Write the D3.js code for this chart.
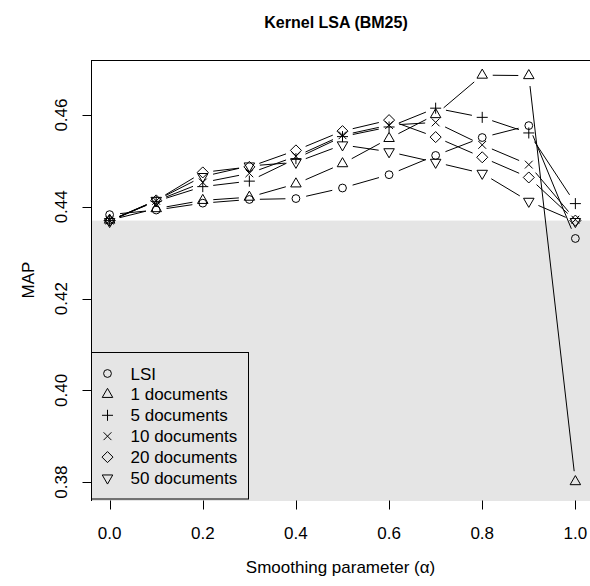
<!DOCTYPE html>
<html>
<head>
<meta charset="utf-8">
<script src="https://cdn.jsdelivr.net/npm/d3@7"></script>
<style>
  body { margin: 0; background: #fff; }
  text { font-family: "Liberation Sans", Arial, Helvetica, sans-serif; fill: #000; }
</style>
</head>
<body>
<script>
//chart data
var alphaValues = [0.0, 0.1, 0.2, 0.3, 0.4, 0.5, 0.6, 0.7, 0.8, 0.9, 1.0];
var seriesNames = ["LSI", "1 documents", "5 documents", "10 documents", "20 documents", "50 documents"];
var seriesShapes = ["circle", "triUp", "plus", "cross", "diamond", "triDown"];
var lsiMap   = [0.4383, 0.4393, 0.4408, 0.4416, 0.4418, 0.4441, 0.4470, 0.4512, 0.4551, 0.4577, 0.4331];
var doc1Map  = [0.4371, 0.4396, 0.4414, 0.4421, 0.4450, 0.4494, 0.4549, 0.4601, 0.4687, 0.4686, 0.3801];
var doc5Map  = [0.4370, 0.4412, 0.4444, 0.4456, 0.4505, 0.4553, 0.4574, 0.4615, 0.4595, 0.4561, 0.4407];
var doc10Map = [0.4370, 0.4413, 0.4453, 0.4473, 0.4510, 0.4556, 0.4578, 0.4584, 0.4535, 0.4492, 0.4372];
var doc20Map = [0.4370, 0.4414, 0.4475, 0.4487, 0.4523, 0.4565, 0.4589, 0.4552, 0.4508, 0.4464, 0.4370];
var doc50Map = [0.4368, 0.4414, 0.4466, 0.4489, 0.4497, 0.4535, 0.4520, 0.4497, 0.4473, 0.4412, 0.4368];
var baselineMap = 0.4370; //shaded area below this level
var xTicks = [0.0, 0.2, 0.4, 0.6, 0.8, 1.0];
var yTicks = [0.38, 0.40, 0.42, 0.44, 0.46];

var allSeries = [lsiMap, doc1Map, doc5Map, doc10Map, doc20Map, doc50Map];

//frame
var width = 590, height = 586;
var plotLeft = 91, plotRight = 594, plotTop = 60, plotBottom = 500;
var radius = 3.9;   //R symbol radius
var gap = 10.5;     //type="b" gap around points
var fontSize = "17px";

var svg = d3.select("body")
    .append("svg")
    .attr("width", width)
    .attr("height", height);

var x = d3.scaleLinear().domain([-0.04, 1.04]).range([plotLeft, plotRight]);
var y = d3.scaleLinear().domain([0.3761, 0.4720]).range([plotBottom, plotTop]);

//R style point symbols
function symbolPath(shape, cx, cy){
    var r, xc, yc, p = d3.path();
    if (shape == "circle"){
        p.arc(cx, cy, radius, 0, 2 * Math.PI);
    } else if (shape == "triUp" || shape == "triDown"){
        var s = shape == "triUp" ? 1 : -1;
        r = 1.5551 * radius;
        xc = 1.3468 * radius;
        yc = 0.7776 * radius;
        p.moveTo(cx, cy - s * r);
        p.lineTo(cx + xc, cy + s * yc);
        p.lineTo(cx - xc, cy + s * yc);
        p.closePath();
    } else if (shape == "plus"){
        xc = Math.SQRT2 * radius;
        p.moveTo(cx - xc, cy); p.lineTo(cx + xc, cy);
        p.moveTo(cx, cy - xc); p.lineTo(cx, cy + xc);
    } else if (shape == "cross"){
        xc = radius;
        p.moveTo(cx - xc, cy - xc); p.lineTo(cx + xc, cy + xc);
        p.moveTo(cx - xc, cy + xc); p.lineTo(cx + xc, cy - xc);
    } else if (shape == "diamond"){
        xc = Math.SQRT2 * radius;
        p.moveTo(cx, cy - xc);
        p.lineTo(cx + xc, cy);
        p.lineTo(cx, cy + xc);
        p.lineTo(cx - xc, cy);
        p.closePath();
    }
    return p.toString();
}

//plot box
svg.append("rect")
    .attr("x", plotLeft + 0.5)
    .attr("y", plotTop + 0.5)
    .attr("width", plotRight - plotLeft)
    .attr("height", plotBottom - plotTop)
    .attr("fill", "none")
    .attr("stroke", "#000");

//shaded region below the baseline
svg.append("rect")
    .attr("x", plotLeft + 1)
    .attr("y", y(baselineMap))
    .attr("width", plotRight - plotLeft)
    .attr("height", plotBottom + 1 - y(baselineMap))
    .attr("fill", "#e5e5e5");

var plotArea = svg.append("g");

//lines with gaps around points (type "b")
allSeries.forEach(function(vals){
    for (var i = 1; i < vals.length; i++){
        var x0 = x(alphaValues[i - 1]), y0 = y(vals[i - 1]),
            x1 = x(alphaValues[i]), y1 = y(vals[i]);
        var f = gap / Math.hypot(x1 - x0, y1 - y0);
        if (f < 0.5){
            plotArea.append("line")
                .attr("x1", x0 + f * (x1 - x0))
                .attr("y1", y0 + f * (y1 - y0))
                .attr("x2", x1 + f * (x0 - x1))
                .attr("y2", y1 + f * (y0 - y1))
                .attr("stroke", "#000")
                .attr("stroke-width", 1);
        }
    }
});

//points
allSeries.forEach(function(vals, k){
    plotArea.selectAll(".pt" + k)
        .data(vals)
        .enter()
        .append("path")
        .attr("d", function(d, i){ return symbolPath(seriesShapes[k], x(alphaValues[i]), y(d)); })
        .attr("fill", "none")
        .attr("stroke", "#000")
        .attr("stroke-width", 1);
});

//x axis
var xAxis = svg.append("g").attr("transform", "translate(0," + (plotBottom + 0.5) + ")");
xAxis.selectAll(".xtick")
    .data(xTicks)
    .enter()
    .append("line")
    .attr("x1", function(d){ return Math.round(x(d)) + 0.5; })
    .attr("x2", function(d){ return Math.round(x(d)) + 0.5; })
    .attr("y1", 0)
    .attr("y2", 9)
    .attr("stroke", "#000");
xAxis.selectAll(".xlab")
    .data(xTicks)
    .enter()
    .append("text")
    .attr("x", function(d){ return x(d); })
    .attr("y", 38)
    .attr("text-anchor", "middle")
    .style("font-size", fontSize)
    .text(function(d){ return d3.format(".1f")(d); });

//y axis
var yAxis = svg.append("g").attr("transform", "translate(" + (plotLeft + 0.5) + ",0)");
yAxis.selectAll(".ytick")
    .data(yTicks)
    .enter()
    .append("line")
    .attr("x1", 0)
    .attr("x2", -9)
    .attr("y1", function(d){ return Math.round(y(d)) + 0.5; })
    .attr("y2", function(d){ return Math.round(y(d)) + 0.5; })
    .attr("stroke", "#000");
yAxis.selectAll(".ylab")
    .data(yTicks)
    .enter()
    .append("text")
    .attr("transform", function(d){ return "translate(-25," + y(d) + ") rotate(-90)"; })
    .attr("text-anchor", "middle")
    .style("font-size", fontSize)
    .text(function(d){ return d3.format(".2f")(d); });

//titles
svg.append("text")
    .attr("x", 336)
    .attr("y", 28)
    .attr("text-anchor", "middle")
    .style("font-size", "16px")
    .style("font-weight", "bold")
    .text("Kernel LSA (BM25)");

svg.append("text")
    .attr("x", 340.5)
    .attr("y", 573)
    .attr("text-anchor", "middle")
    .style("font-size", fontSize)
    .text("Smoothing parameter (\u03b1)");

svg.append("text")
    .attr("transform", "translate(34," + (plotTop + plotBottom) / 2 + ") rotate(-90)")
    .attr("text-anchor", "middle")
    .style("font-size", fontSize)
    .text("MAP");

//legend
var legend = svg.append("g");
legend.append("rect")
    .attr("x", plotLeft + 0.5)
    .attr("y", 352.5)
    .attr("width", 157)
    .attr("height", 146.5)
    .attr("fill", "#e5e5e5")
    .attr("stroke", "#000");

var rowY = d3.scaleLinear().domain([0, 5]).range([373.5, 478]);
seriesNames.forEach(function(name, k){
    legend.append("path")
        .attr("d", symbolPath(seriesShapes[k], 107.5, rowY(k)))
        .attr("fill", "none")
        .attr("stroke", "#000");
    legend.append("text")
        .attr("x", 130.5)
        .attr("y", rowY(k) + 6)
        .style("font-size", fontSize)
        .text(name);
});
</script>
</body>
</html>
